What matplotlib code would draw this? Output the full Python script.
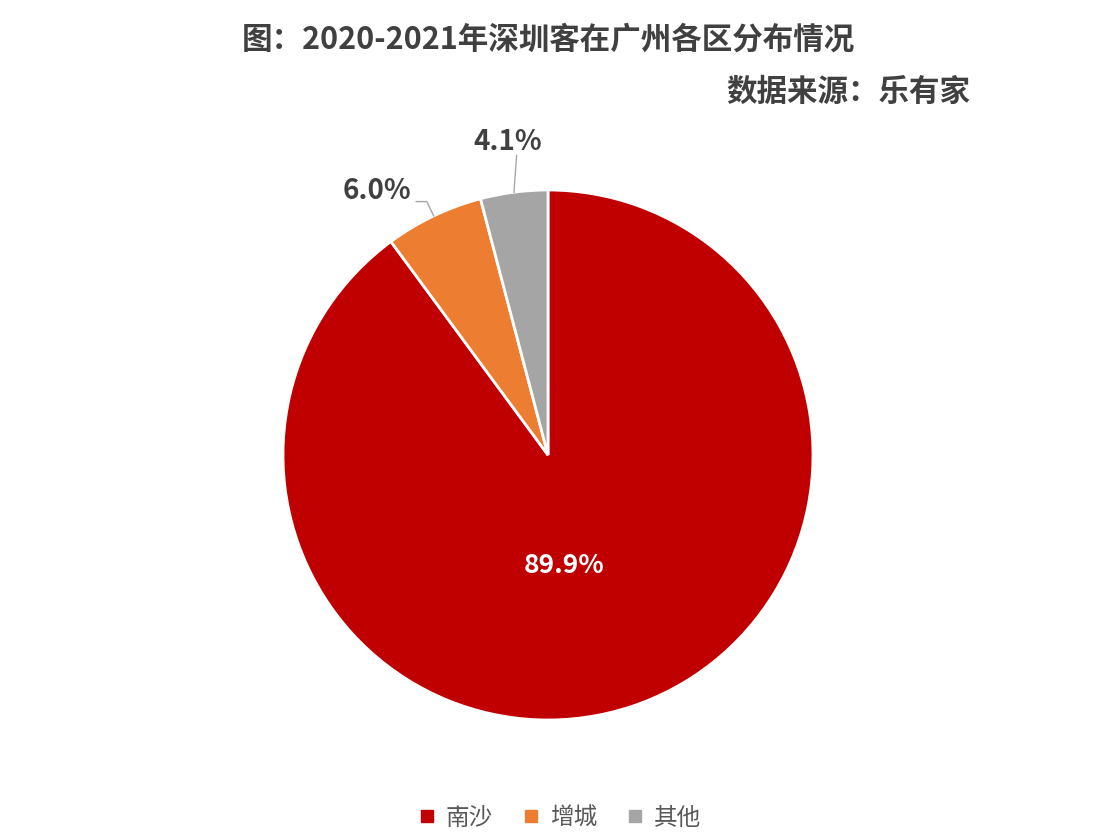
import numpy as np
import matplotlib.pyplot as plt

plt.rcParams['font.family'] = ['Noto Sans CJK SC', 'DejaVu Sans']

labels = ['南沙', '增城', '其他']
values = [89.9, 6.0, 4.1]
pct_text = ['89.9%', '6.0%', '4.1%']
colors = ['#C00000', '#ED7D31', '#A5A5A5']

fig = plt.figure(figsize=(11.08, 8.38), dpi=100)
fig.patch.set_facecolor('white')

# pie area: center ~ (548, 455) px, radius ~ 265 px
ax = fig.add_axes([283 / 1108, 118 / 838, 530 / 1108, 530 / 838])
wedges, _ = ax.pie(values, colors=colors, startangle=90, counterclock=False,
                   radius=1.0, wedgeprops=dict(edgecolor='white', linewidth=2))
ax.set_xlim(-1, 1)
ax.set_ylim(-1, 1)
ax.set_aspect('equal')
ax.axis('off')

txt_color = '#404040'
line_color = '#A6A6A6'

# big slice label inside
w = wedges[0]
mid = np.deg2rad((w.theta1 + w.theta2) / 2)
ax.text(0.2 * np.cos(mid), 0.44 * np.sin(mid), pct_text[0], color='white',
        fontsize=19, fontweight='bold', ha='center', va='center')

# 增城 label with leader line
w = wedges[1]
mid = np.deg2rad((w.theta1 + w.theta2) / 2)
p0 = np.array([np.cos(mid), np.sin(mid)])
p1 = p0 * 1.06
p2 = p1 + np.array([-0.04, 0])
ax.plot([p0[0], p1[0], p2[0]], [p0[1], p1[1], p2[1]], color=line_color, lw=1,
        clip_on=False)
ax.text(p2[0] - 0.02, p2[1] + 0.04, pct_text[1], color=txt_color, fontsize=20,
        fontweight='bold', ha='right', va='center')

# 其他 label with leader line
w = wedges[2]
mid = np.deg2rad((w.theta1 + w.theta2) / 2)
p0 = np.array([np.cos(mid), np.sin(mid)])
p1 = np.array([p0[0] + 0.01, 1.13])
ax.plot([p0[0], p1[0]], [p0[1], p1[1]], color=line_color, lw=1, clip_on=False)
ax.text(p1[0] - 0.035, p1[1] + 0.0, pct_text[2], color=txt_color, fontsize=20,
        fontweight='bold', ha='center', va='bottom')

fig.text(548 / 1108, 1 - 40 / 838, '图：2020-2021年深圳客在广州各区分布情况',
         fontsize=22, fontweight='bold', color=txt_color, ha='center', va='center')
fig.text(970 / 1108, 1 - 92 / 838, '数据来源：乐有家', fontsize=22,
         fontweight='bold', color=txt_color, ha='right', va='center')

handles = [plt.Line2D([], [], marker='s', linestyle='', markersize=9,
                      color=c) for c in colors]
fig.legend(handles, labels, loc='center', bbox_to_anchor=(557 / 1108, 1 - 818 / 838),
           ncol=3, frameon=False, fontsize=17, handletextpad=0.2,
           handlelength=1.2, columnspacing=1.0, labelcolor='#595959')

fig.savefig('out.png', dpi=100, facecolor='white')
